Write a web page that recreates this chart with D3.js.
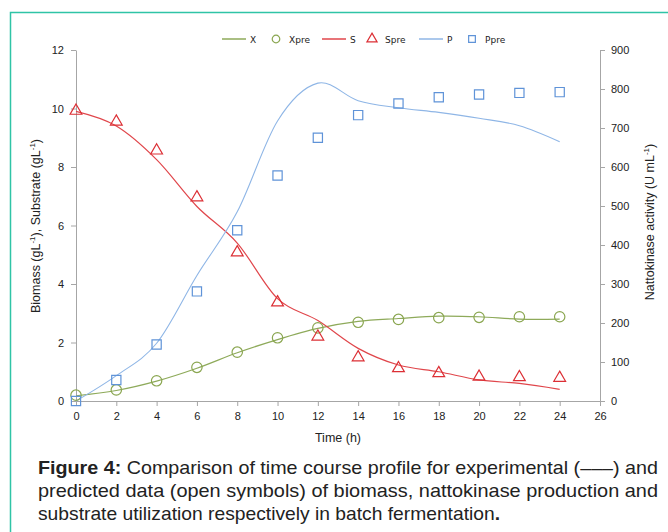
<!DOCTYPE html>
<html>
<head>
<meta charset="utf-8">
<script src="https://cdn.jsdelivr.net/npm/d3@7"></script>
<style>
  body { margin: 0; background: #fff; }
</style>
</head>
<body>
<svg id="chart" width="668" height="532"></svg>
<script>
// time points (h)
var time = [0, 2, 4, 6, 8, 10, 12, 14, 16, 18, 20, 22, 24];

// experimental (lines)
var X = [0.18, 0.36, 0.68, 1.12, 1.65, 2.1, 2.48, 2.72, 2.82, 2.9, 2.88, 2.8, 2.8];
var S = [9.9, 9.4, 8.25, 6.65, 5.4, 3.5, 2.75, 1.8, 1.23, 1.0, 0.72, 0.6, 0.4];
var P = [0, 65, 148, 322, 485, 718, 815, 770, 752, 740, 725, 706, 665];

// predicted (symbols)
var Xpre = [0.2, 0.38, 0.69, 1.15, 1.67, 2.16, 2.5, 2.69, 2.79, 2.85, 2.86, 2.88, 2.88];
var Spre = [9.92, 9.55, 8.56, 6.96, 5.08, 3.37, 2.2, 1.49, 1.12, 0.95, 0.83, 0.81, 0.79];
var Ppre = [0, 54, 145, 281, 438, 578, 675, 733, 763, 779, 786, 790, 792];

var xTicks = d3.range(0, 27, 2);
var yLeftTicks = [0, 2, 4, 6, 8, 10, 12];
var yRightTicks = [0, 100, 200, 300, 400, 500, 600, 700, 800, 900];

var captionLines = [
  "Comparison of time course profile for experimental (–––) and",
  "predicted data (open symbols) of biomass, nattokinase production and",
  "substrate utilization respectively in batch fermentation"
];

var cGreen = "#8eaa5a", cRed = "#e0464b", cBlue = "#8fb6e6";
var mGreen = "#8aa650", mRed = "#dc2f35", mBlue = "#5f93d8";

var svg = d3.select("#chart");

// teal frame
svg.append("path")
  .attr("d", "M10.5,532 L10.5,12.5 L668,12.5")
  .attr("fill", "none").attr("stroke", "#2fc4a6").attr("stroke-width", 1.5);

var x = d3.scaleLinear().domain([0, 26]).range([76, 600]);
var yL = d3.scaleLinear().domain([0, 12]).range([401, 50]);
var yR = d3.scaleLinear().domain([0, 900]).range([401, 50]);

var tickFont = "'Liberation Sans', Arial, sans-serif";

function styleAxis(g) {
  g.selectAll("path.domain").attr("stroke", "#a6a6a6");
  g.selectAll(".tick line").attr("stroke", "#a6a6a6");
  g.selectAll(".tick text").attr("fill", "#222").style("font-family", tickFont).style("font-size", "11px");
}

svg.append("g").attr("transform", "translate(0,401)")
  .call(d3.axisBottom(x).tickValues(xTicks).tickSize(5).tickSizeOuter(0).tickPadding(6))
  .call(styleAxis);

svg.append("g").attr("transform", "translate(76,0)")
  .call(d3.axisLeft(yL).tickValues(yLeftTicks).tickSize(5).tickSizeOuter(0).tickPadding(7))
  .call(styleAxis);

svg.append("g").attr("transform", "translate(600,0)")
  .call(d3.axisRight(yR).tickValues(yRightTicks).tickSize(5).tickSizeOuter(0).tickPadding(6))
  .call(styleAxis);

// axis titles
svg.append("text").attr("x", 338).attr("y", 442).attr("text-anchor", "middle")
  .style("font-family", tickFont).style("font-size", "12.5px").attr("fill", "#222")
  .text("Time (h)");

var lt = svg.append("text").attr("transform", "translate(40,226) rotate(-90)")
  .attr("text-anchor", "middle").style("font-family", tickFont).style("font-size", "12.5px").attr("fill", "#222");
lt.append("tspan").text("Biomass (gL");
lt.append("tspan").attr("dy", -5).style("font-size", "8px").text("-1");
lt.append("tspan").attr("dy", 5).text("), Substrate (gL");
lt.append("tspan").attr("dy", -5).style("font-size", "8px").text("-1");
lt.append("tspan").attr("dy", 5).text(")");

var rt = svg.append("text").attr("transform", "translate(654,222) rotate(-90)")
  .attr("text-anchor", "middle").style("font-family", tickFont).style("font-size", "12.5px").attr("fill", "#222");
rt.append("tspan").text("Nattokinase activity (U mL");
rt.append("tspan").attr("dy", -5).style("font-size", "8px").text("-1");
rt.append("tspan").attr("dy", 5).text(")");

// lines
function drawLine(vals, yScale, color, w) {
  var line = d3.line()
    .x(function(d, i) { return x(time[i]); })
    .y(function(d) { return yScale(d); })
    .curve(d3.curveCatmullRom.alpha(0));
  svg.append("path").datum(vals)
    .attr("d", line).attr("fill", "none")
    .attr("stroke", color).attr("stroke-width", w);
}
drawLine(X, yL, cGreen, 1.2);
drawLine(S, yL, cRed, 1.2);
drawLine(P, yR, cBlue, 1.1);

// symbols
function drawSymbols(vals, yScale, type, color, size) {
  svg.append("g").selectAll("path").data(vals).enter().append("path")
    .attr("transform", function(d, i) { return "translate(" + x(time[i]) + "," + yScale(d) + ")"; })
    .attr("d", d3.symbol().type(type).size(size))
    .attr("fill", "none").attr("stroke", color).attr("stroke-width", 1.2);
}
drawSymbols(Xpre, yL, d3.symbolCircle, mGreen, 85);
drawSymbols(Spre, yL, d3.symbolTriangle, mRed, 60);
drawSymbols(Ppre, yR, d3.symbolSquare, mBlue, 85);

// legend
var legendItems = [
  { label: "X", kind: "line", color: cGreen, x: 222 },
  { label: "Xpre", kind: d3.symbolCircle, color: mGreen, x: 270 },
  { label: "S", kind: "line", color: cRed, x: 322 },
  { label: "Spre", kind: d3.symbolTriangle, color: mRed, x: 366 },
  { label: "P", kind: "line", color: cBlue, x: 419 },
  { label: "Ppre", kind: d3.symbolSquare, color: mBlue, x: 466 }
];
var lg = svg.append("g").attr("transform", "translate(0,39)");
legendItems.forEach(function(d) {
  if (d.kind === "line") {
    lg.append("line").attr("x1", d.x).attr("x2", d.x + 24).attr("y1", 0).attr("y2", 0)
      .attr("stroke", d.color).attr("stroke-width", 1.5);
    lg.append("text").attr("x", d.x + 28).attr("y", 3.5).text(d.label)
      .style("font-family", "'DejaVu Sans', Verdana, sans-serif").style("font-size", "9px").attr("fill", "#222");
  } else {
    lg.append("path").attr("transform", "translate(" + (d.x + 6) + ",0)")
      .attr("d", d3.symbol().type(d.kind).size(45))
      .attr("fill", "none").attr("stroke", d.color).attr("stroke-width", 1.2);
    lg.append("text").attr("x", d.x + 19).attr("y", 3.5).text(d.label)
      .style("font-family", "'DejaVu Sans', Verdana, sans-serif").style("font-size", "9px").attr("fill", "#222");
  }
});

// caption: narrow-looking text, first two lines justified to full width
var cap = svg.append("g")
  .style("font-family", "'Liberation Sans', Arial, sans-serif")
  .style("font-size", "19px").attr("fill", "#222");
var l1 = cap.append("text").attr("x", 38).attr("y", 474)
  .attr("textLength", 620).attr("lengthAdjust", "spacingAndGlyphs");
l1.append("tspan").style("font-weight", "bold").text("Figure 4:");
l1.append("tspan").text(" " + captionLines[0]);
cap.append("text").attr("x", 38).attr("y", 497)
  .attr("textLength", 620).attr("lengthAdjust", "spacingAndGlyphs")
  .text(captionLines[1]);
var l3 = cap.append("text").attr("x", 38).attr("y", 520)
  .attr("textLength", 462).attr("lengthAdjust", "spacingAndGlyphs");
l3.append("tspan").text(captionLines[2]);
l3.append("tspan").style("font-weight", "bold").text(".");
</script>
</body>
</html>
